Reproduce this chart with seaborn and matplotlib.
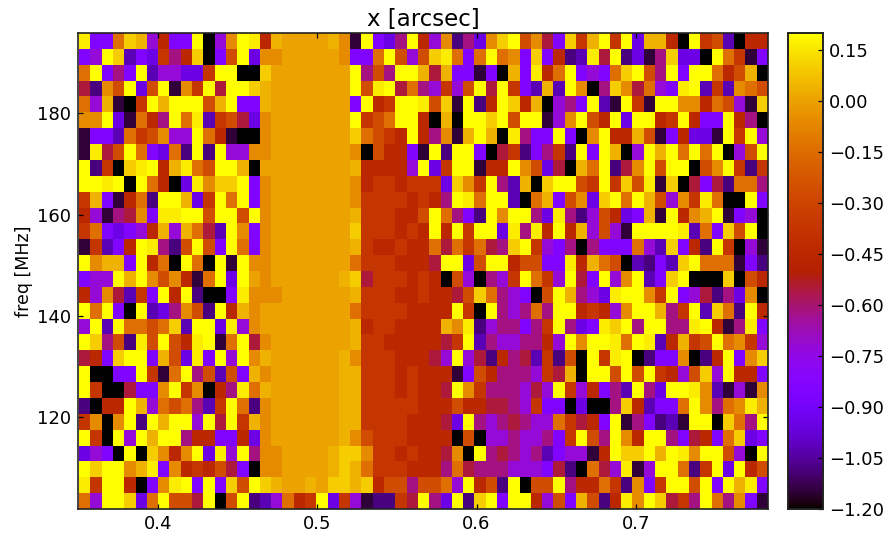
import numpy as np
import pandas as pd
import seaborn as sns
import matplotlib
matplotlib.use("Agg")
import matplotlib.pyplot as plt
from matplotlib.ticker import FuncFormatter

# Colour-level codes -> value
level_codes = list("KDIUWVPMNRSTOoAaGyY")
level_values = [-1.2, -1.15, -1.08, -1.02, -0.95, -0.85, -0.72, -0.62, -0.55,
                -0.45, -0.37, -0.27, -0.14, -0.06, 0.0, 0.04, 0.10, 0.165, 0.20]

# Rows run from the highest frequency (top) to the lowest (bottom)
left_cols = [
    "yVVOGaPRVVYKPoYyRaAAA", "VPYGUVWSMRGKVTYWooAAA", "OYVMVYUPPWWSYYKKGAAAA",
    "NIoTYWTYDoSYNYYGaAAAA", "OPaDKSYaYYYTaYVVaAAAA", "ooYWDORMYOyUSTNWoAAAA",
    "DVVUOSToPPYORDKKoAAAA", "DyNTYOVWOIYIYPPooAAAA", "YISKGyYRayOTYYaKAAAAA",
    "YYyYKYORKWyoGGYVoAAAA", "SaVDROIYYaWSYOYVoAAAA", "RPDMNoVyyYYTYYTYoAAAA",
    "SOVWVPRaPaONUYoVoAAAA", "DSUVRYyMITYTVYOVoAAAA", "YoaaVYROKYOKYDYooAAAA",
    "VPPYaYoToRDOYWYAoAAAA", "RPoNUSVYRYIKKVyoooAAA", "YOYVKYUWMoTIYRaoAAAAA",
    "PYUYOOTOGUYYWyPoAAAAA", "YGMTIyTYTRyYDOYNoAAAA", "NRVGYYVaTWyVYPYoaAAAA",
    "YKKVVYSDOYMTUTVaoAAAA", "YSKKNVVoYSoKRMyOaAAAA", "IKRRYaPOTOMUSYOIoAAAA",
    "SoKoYIYaYYPYNYSaoAAAA", "YSKYPYaYYMRRVVRWoAAAA", "WPVKYKGoRoYWyPYMooAAA",
    "YGYYoayVoRSRTNVKooAAA", "ySYYRKVoyYVYVGTYGaAAa", "OPYYGWOYTTNYKTYIUPORS",
]
band_cols = [
    "Aao", "AAo", "AAA", "AAA", "AAA", "AAA", "AAA", "AAA", "AAA", "AAA",
    "AAA", "AAA", "AAA", "AAA", "AAA", "AAa", "AAA", "AAA", "AAA", "AAA",
    "AAa", "AAa", "AAa", "AAa", "AAa", "AAa", "AaG", "AaG", "AGG", "YWS",
]
core_cols = [
    "DYVWMYRPoIMWoGYToNV", "VVOYTPTGyOVOYOoVGVR", "YMTMYYaNaVVDVKaVyRO",
    "YTyYNOMPSPTYNYSVUaU", "VYRSYYyTGDYIRYGRaKP", "YSTOYYRKaKYYGYTYYDP",
    "GOTSRYRMoDaYaKyMVVY", "oKTRRVDYIYYVKNSIVMS", "aRRRRPYWSYYDRRYoTWN",
    "oRSSRSSSWGoSYMUaKGY", "oSSSSRSRMYyOYYUKOaV", "aSSSRRTYOMVIYoYYMWy",
    "GSSSRSRYRYSYYWyMyRY", "aSRRSRRONOSONMGYSPV", "OSSSRRRNYYWTYYRTTVV",
    "GNSSSRSRKTPKMPSYOSP", "aSSSRRSRRNTGOMPVKTY", "OSSSSRRRRYSKYMPMOMY",
    "aRSSRRRRaoyIPMMVMSY", "aSSRRRRRNSYUMPPMMRP", "oSSSRRRNPYPNIRMNUSI",
    "aSSSRSRRRDVTRMMMPSN", "aSSSRSRRNYoSMMMPNPY", "aSSSSSRRRTRRNNMPSVV",
    "aSSSSRRRNWYMPMNMPPO", "oTSSSRRRRKTKPPMPPMV", "GoSSRSRRNoKYMNMPMUV",
    "aOSSSRRRMONMMMPPPVN", "aGRTTMTTOPYRTIYKTTY", "PDIISNYMWYIGYVYYRPT",
]
right_cols = [
    "GSaYSYWaaRKYSTUKRR", "IUyNYIWDMGWWKYOSDV", "YVPVOGYTMYVYYORTaK",
    "YoKMGoNOPVyYUSUoOT", "MVYUDYSDYYooROTPDG", "oYTRYWYYRSYRVVYRMK",
    "VKoYRRaTDVRWWDYSYP", "IYVYaKPYaYOYOYKPTY", "KaOYINoYTYYKToYSIS",
    "YTSYSGTyDGKNVNIOOM", "ToWGYOYaTPoSyOKKYV", "MIPTRWVaDYRoaYDVPK",
    "RaPTPDYYYYyUOVGTYK", "MKMVVVOPUGVRIYSKPD", "yRaOTKUIVUGYOOODVI",
    "YNVYPoYUVGYKKKGKTR", "aMPWyYYoSYVPNIMWoK", "YRSRPoYYaMSYUGOIYR",
    "MWVyGYMYYMMyYRDMyV", "YoYYyOYyURaSTYOoSP", "TKYSyYKIVVoKIRYVoG",
    "aKYYTYTYSRPTGPYRRV", "SPRVMUYMWYYyoUDPDo", "KWKKMGRUVVOYoMOoya",
    "SNRVYDMVIUDYYKGOMY", "SYTMYoRYYMVNRVOGWV", "PPDRYGGYaYyoYYTPKY",
    "IKONPyDPYYOISYWYRT", "MRROSIoVSYYTYVYayV", "VaTIRyoYGNSMYOMoVD",
]

x_ticks = [0.4, 0.5, 0.6, 0.7]
y_ticks = [180, 160, 140, 120]
cbar_ticks = [-1.20, -1.05, -0.90, -0.75, -0.60, -0.45, -0.30, -0.15, 0.00, 0.15]

lookup = dict(zip(level_codes, level_values))
rows = [l + b + c + r for l, b, c, r in zip(left_cols, band_cols, core_cols, right_cols)]
table = pd.DataFrame([[lookup[ch] for ch in row] for row in rows])

x_start, x_step = 0.3505, 0.00709
f_top, f_step = 195.9, 3.136

W, H = 890, 537
fig = plt.figure(figsize=(W / 100, H / 100), dpi=100)
ax = fig.add_axes([78 / W, 1 - 509 / H, 690 / W, 476 / H])
cax = fig.add_axes([788 / W, 1 - 509 / H, 35 / W, 476 / H])

minus_fmt = FuncFormatter(lambda v, pos: f"{v:.2f}".replace("-", "\u2212"))
sns.heatmap(table, ax=ax, cbar_ax=cax, cmap="gnuplot", vmin=-1.2, vmax=0.2,
            xticklabels=False, yticklabels=False, square=False,
            cbar_kws={"ticks": cbar_ticks, "format": minus_fmt})

ax.set_xlim(-0.1, table.shape[1])
ax.set_ylim(table.shape[0], 0)
ax.set_xticks([(v - x_start) / x_step for v in x_ticks])
ax.set_xticklabels([f"{v:.1f}" for v in x_ticks])
ax.set_yticks([(f_top - v) / f_step for v in y_ticks])
ax.set_yticklabels([str(v) for v in y_ticks])
ax.tick_params(axis="both", which="major", direction="in", length=3.6, width=0.9,
               top=True, right=True, labelsize=13, colors="black")
ax.tick_params(axis="x", pad=4.5)
ax.tick_params(axis="y", pad=5)
plt.setp(ax.get_yticklabels(), rotation=0)
ax.set_ylabel("freq [MHz]", fontsize=12.5, labelpad=2.5)
ax.set_xlabel("")
ax.set_title("x [arcsec]", fontsize=16.5, pad=5)
for s in ax.spines.values():
    s.set_visible(True)
    s.set_linewidth(1.2)
    s.set_color("#222222")

cax.tick_params(direction="in", length=3.6, width=0.9, labelsize=13, pad=4.5, colors="black")
cax.yaxis.set_ticks_position("right")
for s in cax.spines.values():
    s.set_visible(True)
    s.set_linewidth(1.2)
    s.set_color("#222222")
cb = ax.collections[0].colorbar
cb.outline.set_visible(True)
cb.outline.set_linewidth(1.2)
cb.outline.set_edgecolor("#222222")

fig.savefig("out.png", dpi=100)
